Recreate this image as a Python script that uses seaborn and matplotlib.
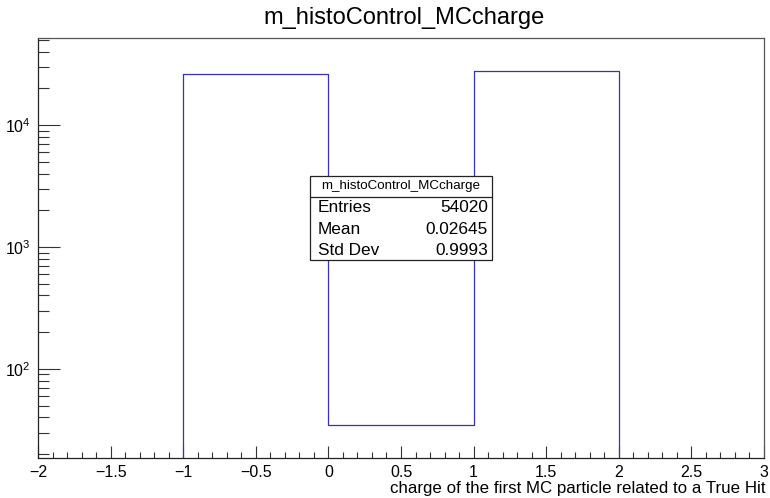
import numpy as np
import matplotlib
matplotlib.use("Agg")
import matplotlib.pyplot as plt
import seaborn as sns
from matplotlib.ticker import MultipleLocator, LogLocator, LogFormatterSciNotation, NullFormatter
from matplotlib.patches import Rectangle

# Data
bin_edges = [-2, -1, 0, 1, 2, 3]
bin_centers = [-1.5, -0.5, 0.5, 1.5, 2.5]
counts = [0, 26278, 35, 27707, 0]
title = "m_histoControl_MCcharge"
xlabel = "charge of the first MC particle related to a True Hit"
stats_labels = ["Entries", "Mean", "Std Dev"]
stats_values = ["54020", "0.02645", "0.9993"]

sns.set_theme(style="white")
plt.rcParams['font.family'] = ['Liberation Sans', 'DejaVu Sans']
plt.rcParams['mathtext.default'] = 'regular'
plt.rcParams['text.color'] = 'black'
plt.rcParams['xtick.color'] = 'black'
plt.rcParams['ytick.color'] = 'black'
plt.rcParams['xtick.labelcolor'] = 'black'
plt.rcParams['ytick.labelcolor'] = 'black'

fig = plt.figure(figsize=(7.7, 4.98), dpi=100)
ax = fig.add_axes([38/770, 40/498, (764-38)/770, (458-38)/498])

sns.histplot(x=bin_centers, weights=counts, bins=bin_edges, element="step",
             fill=False, color="#3434b4", linewidth=0.9, ax=ax)

ax.set_yscale("log")
ax.set_xlim(-2, 3)
ax.set_ylim(18.6, 51700)
ax.set_ylabel("")
ax.set_xlabel("")

ax.xaxis.set_major_locator(MultipleLocator(0.5))
ax.xaxis.set_minor_locator(MultipleLocator(0.1))
ax.yaxis.set_major_locator(LogLocator(base=10))
ax.yaxis.set_minor_locator(LogLocator(base=10, subs=np.arange(2, 10)))
ax.yaxis.set_major_formatter(LogFormatterSciNotation())
ax.yaxis.set_minor_formatter(NullFormatter())

def fmt_x(v, pos):
    s = ("%g" % v)
    return s.replace("-", "\u2212")
ax.xaxis.set_major_formatter(matplotlib.ticker.FuncFormatter(fmt_x))

ax.tick_params(axis='y', which='major', direction='in', length=16, width=0.8,
               color='#333333', labelcolor='black', labelsize=11.5, left=True, right=False, pad=5)
ax.tick_params(axis='y', which='minor', direction='in', length=8, width=0.8,
               color='#333333', left=True, right=False)
ax.tick_params(axis='x', which='major', direction='in', length=9, width=0.8,
               color='#333333', labelcolor='black', labelsize=11.5, bottom=True, top=False, pad=5)
ax.tick_params(axis='x', which='minor', direction='in', length=4.5, width=0.8,
               color='#333333', bottom=True, top=False)

for side, sp in ax.spines.items():
    sp.set_visible(True)
    sp.set_color('#222222' if side in ('left', 'bottom') else '#555555')
    sp.set_linewidth(0.9)

fig.text(404/770, 1 - 18/498, title, ha='center', va='center', fontsize=17, color='black')
fig.text(766/770, 1 - 488/498, xlabel, ha='right', va='center', fontsize=12.2, color='black')

# Stats box
bx0, bx1 = 310/770, 492/770
by_top, by_bot = 1 - 176/498, 1 - 260/498
by_sep = 1 - 197/498
fig.patches.append(Rectangle((bx0, by_bot), bx1 - bx0, by_top - by_bot,
                             transform=fig.transFigure, facecolor='white',
                             edgecolor='#222222', linewidth=0.9, zorder=5))
fig.lines.append(matplotlib.lines.Line2D([bx0, bx1], [by_sep, by_sep],
                                         transform=fig.transFigure,
                                         color='#222222', linewidth=0.9, zorder=6))
fig.text((bx0 + bx1) / 2, 1 - 186.5/498, title, ha='center', va='center',
         fontsize=9.6, zorder=7, color='black')
row_y = [208, 229, 250]
for lab, val, yy in zip(stats_labels, stats_values, row_y):
    fig.text(318/770, 1 - yy/498, lab, ha='left', va='center', fontsize=12.4, zorder=7, color='black')
    fig.text(488/770, 1 - yy/498, val, ha='right', va='center', fontsize=12.4, zorder=7, color='black')

fig.savefig("out.png", dpi=100)
